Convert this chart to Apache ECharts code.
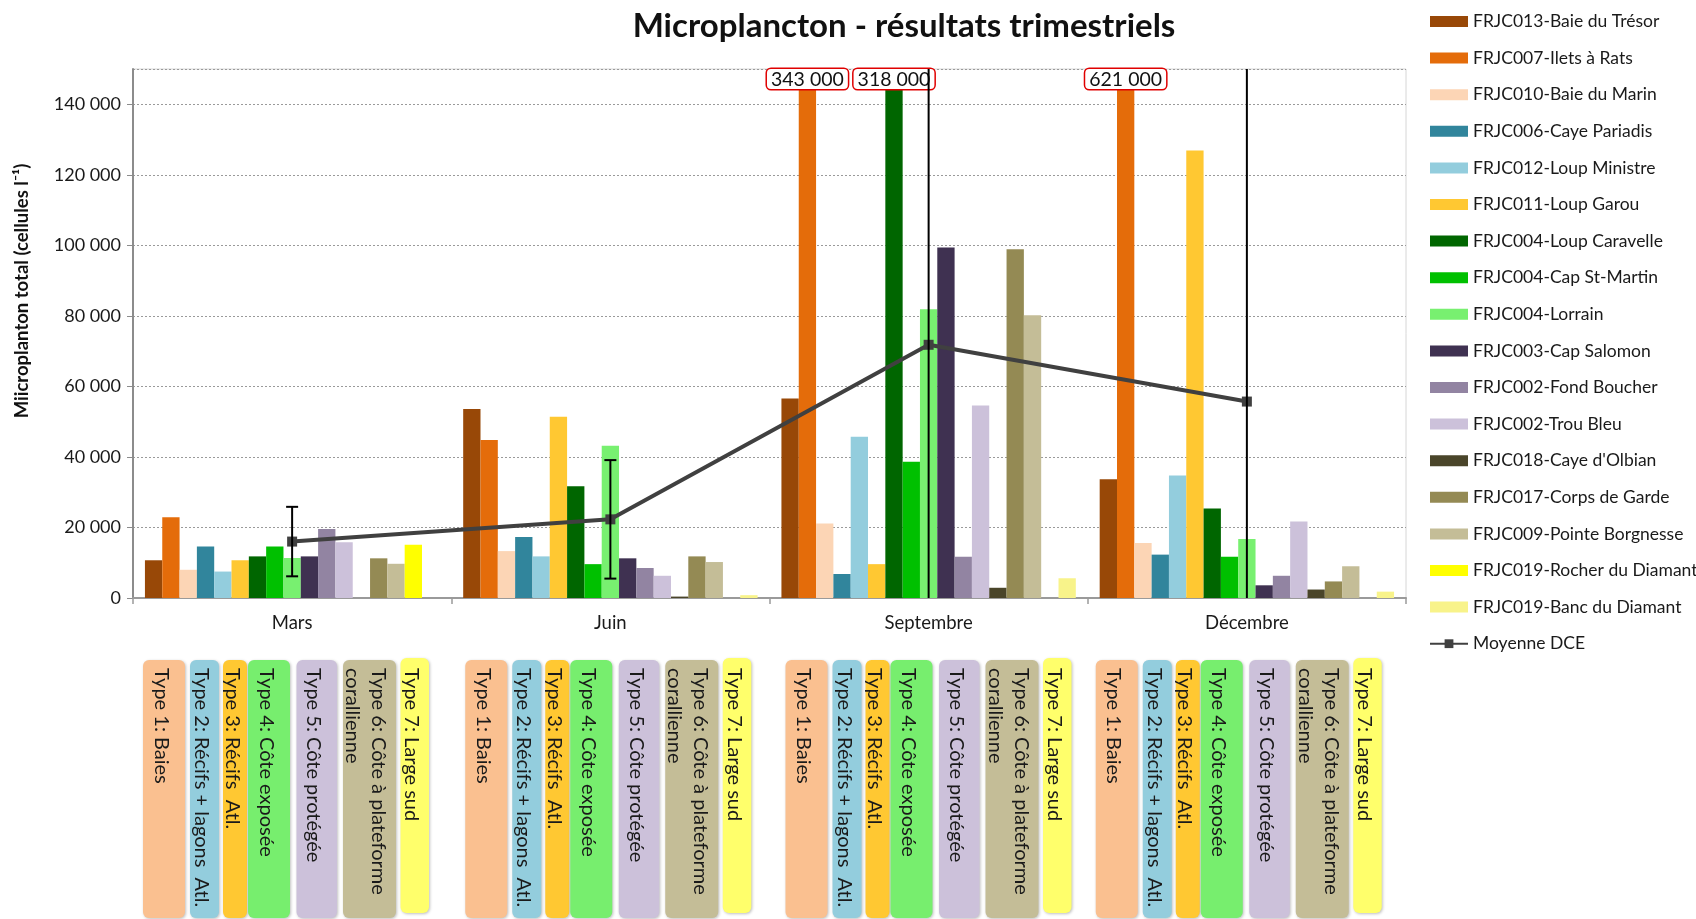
<!DOCTYPE html>
<html>
<head>
<meta charset="utf-8">
<script src="https://cdn.jsdelivr.net/npm/echarts@6/dist/echarts.min.js"></script>
<style>
  html, body { margin: 0; padding: 0; background: #ffffff; }
  #chart { width: 1696px; height: 919px; }
</style>
</head>
<body>
<div id="chart"></div>
<script>
// Trimestres de prélèvement
const trimestres = ['Mars', 'Juin', 'Septembre', 'Décembre'];

// Microplancton total (cellules/l) par station et par trimestre
const baieDuTresor      = [10700, 53600, 56600, 33700];
const iletsARats        = [22900, 44800, 343000, 621000];
const baieDuMarin       = [8000, 13300, 21100, 15600];
const cayePariadis      = [14600, 17300, 6800, 12300];
const loupMinistre      = [7500, 11800, 45700, 34700];
const loupGarou         = [10700, 51400, 9600, 126900];
const loupCaravelle     = [11800, 31700, 318000, 25400];
const capStMartin       = [14600, 9600, 38600, 11700];
const lorrain           = [11350, 43200, 81900, 16700];
const capSalomon        = [11800, 11250, 99400, 3600];
const fondBoucher       = [19600, 8500, 11700, 6300];
const trouBleu          = [15800, 6300, 54600, 21700];
const cayeDOlbian       = [null, 400, 2900, 2400];
const corpsDeGarde      = [11250, 11800, 98900, 4700];
const pointeBorgnesse   = [9700, 10200, 80200, 9000];
const rocherDuDiamant   = [15100, null, null, null];
const bancDuDiamant     = [null, 800, 5600, 1800];

// Moyenne DCE et écart associé (barres d'erreur)
const moyenneDCE = [16000, 22300, 71800, 55700];
const ecartDCE   = [9850, 16800, 100000, 150000];

const stations = [
  'FRJC013-Baie du Trésor', 'FRJC007-Ilets à Rats', 'FRJC010-Baie du Marin',
  'FRJC006-Caye Pariadis', 'FRJC012-Loup Ministre', 'FRJC011-Loup Garou',
  'FRJC004-Loup Caravelle', 'FRJC004-Cap St-Martin', 'FRJC004-Lorrain',
  'FRJC003-Cap Salomon', 'FRJC002-Fond Boucher', 'FRJC002-Trou Bleu',
  "FRJC018-Caye d'Olbian", 'FRJC017-Corps de Garde', 'FRJC009-Pointe Borgnesse',
  'FRJC019-Rocher du Diamant', 'FRJC019-Banc du Diamant'
];
const valeursStations = [
  baieDuTresor, iletsARats, baieDuMarin, cayePariadis, loupMinistre, loupGarou,
  loupCaravelle, capStMartin, lorrain, capSalomon, fondBoucher, trouBleu,
  cayeDOlbian, corpsDeGarde, pointeBorgnesse, rocherDuDiamant, bancDuDiamant
];
const couleursStations = [
  '#984807', '#E46C0A', '#FCD5B5', '#31859C', '#93CDDD', '#FFC832',
  '#006600', '#00C000', '#78F070', '#3F3151', '#9284A2', '#CCC1DA',
  '#4A452A', '#948A54', '#C4BD97', '#FFFF00', '#F8F38A'
];

// Types de masses d'eau affichés sous chaque trimestre
const typesMasseEau = [
  'Type 1: Baies', 'Type 2: Récifs + lagons  Atl.', 'Type 3: Récifs  Atl.',
  'Type 4: Côte exposée', 'Type 5: Côte protégée',
  'Type 6: Côte à plateforme\ncorallienne', 'Type 7: Large sud'
];
const couleursTypes = ['#FAC090', '#93CDDD', '#FFC832', '#77EE6E', '#CCC1DA', '#C4BD97', '#FFFF6B'];

// Axe des ordonnées
const yMax = 150000;
const yInterval = 20000;

const FONT = 'Lato, "Noto Sans", sans-serif';
const fmtEspace = v => String(Math.round(v)).replace(/\B(?=(\d{3})+(?!\d))/g, ' ');

// Les valeurs hors échelle portent une étiquette avec leur valeur réelle
const donneesBarres = vals => vals.map(v => (v != null && v > yMax) ? {
  value: v,
  label: {
    show: true, position: 'insideTop', distance: 0,
    formatter: fmtEspace(v),
    fontFamily: FONT, fontSize: 19.5, color: '#111',
    backgroundColor: '#ffffff', borderColor: '#e00000', borderWidth: 1.5,
    borderRadius: 4, padding: [1, 4, -1, 4]
  }
} : v);

const seriesBarres = stations.map((nom, i) => ({
  name: nom,
  type: 'bar',
  data: donneesBarres(valeursStations[i]),
  itemStyle: { color: couleursStations[i] },
  barGap: '0%',
  barCategoryGap: '7.5%',
  emphasis: { disabled: true }
}));

const chart = echarts.init(document.getElementById('chart'), null, { renderer: 'canvas' });

const option = {
  animation: false,
  backgroundColor: '#ffffff',
  textStyle: { fontFamily: FONT },
  title: {
    text: 'Microplancton - résultats trimestriels',
    left: 899, top: 5, textAlign: 'center',
    textStyle: { fontFamily: FONT, fontWeight: 'bold', fontSize: 33, color: '#111' }
  },
  legend: {
    orient: 'vertical',
    left: 1424, top: 6.5,
    itemWidth: 38, itemHeight: 11, itemGap: 16.6,
    data: stations.map((n, i) => ({ name: n, icon: 'rect' })).concat([{ name: 'Moyenne DCE' }]),
    textStyle: { fontFamily: FONT, fontSize: 17.5, color: '#1a1a1a', lineHeight: 20 },
    selectedMode: false
  },
  grid: {
    left: 133, right: 290, top: 69, bottom: 321,
    show: true, borderColor: '#d6d6d6', borderWidth: 1
  },
  xAxis: {
    type: 'category',
    data: trimestres,
    axisLine: { lineStyle: { color: '#9a9a9a', width: 2 } },
    axisTick: { show: true, length: 6, lineStyle: { color: '#9a9a9a', width: 1.5 } },
    axisLabel: { margin: 16, fontFamily: FONT, fontSize: 18.5, color: '#1a1a1a' }
  },
  yAxis: {
    type: 'value',
    min: 0, max: yMax, interval: yInterval,
    axisLine: { show: true, lineStyle: { color: '#8c8c8c', width: 2 } },
    axisTick: { show: true, length: 6, lineStyle: { color: '#8c8c8c' } },
    axisLabel: {
      margin: 12, fontFamily: FONT, fontSize: 18, color: '#1a1a1a',
      showMaxLabel: false,
      formatter: v => fmtEspace(v)
    },
    splitLine: { show: true, lineStyle: { color: '#9a9a9a', type: [2, 2], width: 1 } }
  },
  series: seriesBarres.concat([
    {
      name: 'Moyenne DCE',
      type: 'line',
      data: moyenneDCE,
      z: 5,
      symbol: 'rect', symbolSize: 10,
      itemStyle: { color: '#404040' },
      lineStyle: { color: '#404040', width: 4 },
      emphasis: { disabled: true }
    },
    {
      name: 'Écart DCE',
      type: 'custom',
      z: 6,
      silent: true,
      data: moyenneDCE.map((m, i) => [i, m - ecartDCE[i], m + ecartDCE[i]]),
      encode: { x: 0, y: [1, 2] },
      renderItem: (params, api) => {
        const cs = params.coordSys;
        const x = api.coord([api.value(0), 0])[0];
        const yBas = api.coord([api.value(0), api.value(1)])[1];
        const yHaut = api.coord([api.value(0), api.value(2)])[1];
        const haut = cs.y, bas = cs.y + cs.height;
        const y1 = Math.max(haut, yHaut), y2 = Math.min(bas, yBas);
        const st = { stroke: '#000000', lineWidth: 2 };
        const enfants = [{ type: 'line', shape: { x1: x, y1: y1, x2: x, y2: y2 }, style: st }];
        const demi = 6;
        if (yHaut >= haut) enfants.push({ type: 'line', shape: { x1: x - demi, y1: yHaut, x2: x + demi, y2: yHaut }, style: st });
        if (yBas <= bas) enfants.push({ type: 'line', shape: { x1: x - demi, y1: yBas, x2: x + demi, y2: yBas }, style: st });
        return { type: 'group', children: enfants };
      }
    }
  ])
};

chart.setOption(option);

// Encadrés des types de masses d'eau, alignés sur chaque trimestre
const decalageBoites = [0, 47, 80, 105, 153.5, 200, 257.5];
const largeurBoites  = [42, 29, 24, 42, 40.5, 53, 28.5];
const decalageGroupes = [10, 14, 16, 8];

const largeurBande = (1696 - 133 - 290) / trimestres.length;
const graphiques = [];
trimestres.forEach((t, g) => {
  const centre = chart.convertToPixel({ xAxisIndex: 0 }, t);
  const debut = centre - largeurBande / 2 + decalageGroupes[g];
  typesMasseEau.forEach((txt, k) => {
    const x0 = debut + decalageBoites[k];
    const w = largeurBoites[k];
    const dernier = k === typesMasseEau.length - 1;
    graphiques.push({
      type: 'rect',
      z: 1,
      shape: { x: x0, y: dernier ? 658 : 660, width: w, height: dernier ? 255 : 258, r: 6 },
      style: {
        fill: couleursTypes[k],
        shadowBlur: 3, shadowColor: 'rgba(0,0,0,0.25)', shadowOffsetX: 1, shadowOffsetY: 1
      }
    });
    const deuxLignes = txt.indexOf('\n') >= 0;
    graphiques.push({
      type: 'text',
      z: 2,
      x: x0 + w / 2 - (deuxLignes ? 4 : 3),
      y: 668,
      rotation: -Math.PI / 2,
      style: {
        text: txt,
        font: '20px ' + FONT,
        fill: '#1a1a1a',
        align: 'left',
        verticalAlign: 'middle',
        lineHeight: 26
      }
    });
  });
});

// Titre de l'axe des ordonnées
graphiques.push({
  type: 'text',
  x: 22, y: 291,
  rotation: Math.PI / 2,
  style: {
    text: 'Miicroplanton total (cellules l⁻¹)',
    font: 'bold 18.5px ' + FONT,
    fill: '#111',
    align: 'center',
    verticalAlign: 'middle'
  }
});

chart.setOption({ graphic: { elements: graphiques } });
</script>
</body>
</html>
